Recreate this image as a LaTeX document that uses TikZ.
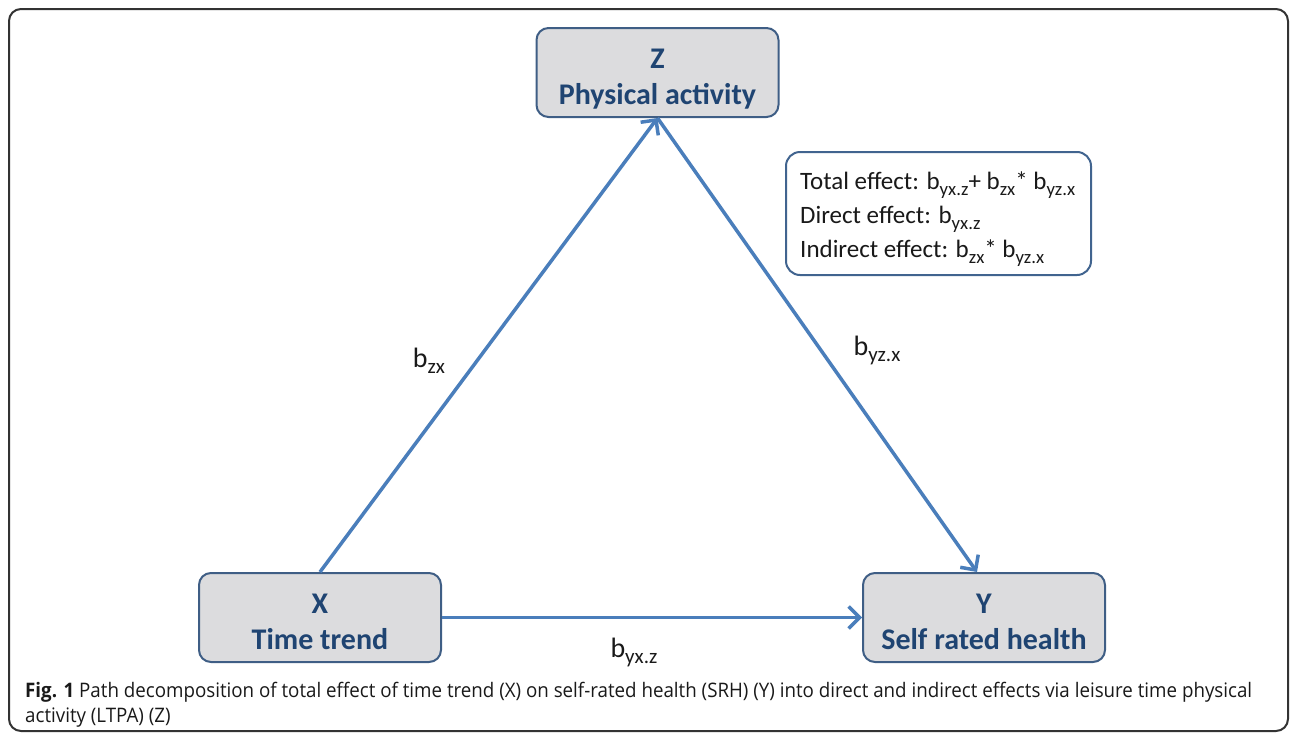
\documentclass[tikz,border=0pt]{standalone}
\usepackage{fontspec}
\usepackage{graphicx}
\setmainfont{Carlito}
\newfontfamily\capfont{Open Sans}
\usetikzlibrary{arrows.meta}
\definecolor{boxfill}{HTML}{DCDCDE}
\definecolor{boxline}{HTML}{3F5E85}
\definecolor{boxtext}{HTML}{1F4472}
\definecolor{arrowblue}{HTML}{4A7EBB}
\definecolor{infoline}{HTML}{41648F}
\definecolor{outerline}{HTML}{333333}
\newcommand{\bsb}[1]{b\raisebox{-0.45ex}{\scalebox{0.75}{#1}}}
\newcommand{\topfix}{\rule{0pt}{27.5pt}}
\newsavebox{\capboxa}
\newlength{\capwd}
\tikzset{
  varbox/.style={draw=boxline, line width=2pt, fill=boxfill, rounded corners=12pt,
    minimum width=242pt, minimum height=89pt, align=center, text=boxtext, text depth=0pt,
    font=\bfseries\fontsize{30}{36}\selectfont},
  infobox/.style={draw=infoline, line width=2pt, fill=white, rounded corners=14pt,
    minimum width=305pt, minimum height=123pt},
  infotxt/.style={anchor=west, align=left, inner sep=0pt, text=black!90,
    font=\fontsize{25}{34}\selectfont},
  pathlabel/.style={text=black!90, font=\fontsize{28}{32}\selectfont},
  patharrow/.style={draw=arrowblue, line width=3.5pt,
    -{Straight Barb[length=11pt, width=22pt, line width=3.5pt]}},
  captext/.style={anchor=west, inner sep=0pt, text=black!90, font=\capfont\fontsize{20}{24}\selectfont}
}
\begin{document}
\begin{tikzpicture}[x=1pt,y=-1pt]
\useasboundingbox (0,0) rectangle (1296,739);
\draw[outerline, line width=2pt, rounded corners=12pt] (9,9) rectangle (1288,731);

\node[varbox] (Z) at (657.5,72.5) {\topfix Z\\Physical activity};
\node[varbox] (X) at (320,617.5) {\topfix X\\Time trend};
\node[varbox] (Y) at (984,617.5) {\topfix Y\\Self rated health};

\draw[patharrow] (X.north) -- (Z.south);
\draw[patharrow] (Z.south) -- ([xshift=-7pt]Y.north);
\draw[patharrow] (X.east) -- (Y.west);

\node[pathlabel] (lzx) at (429,361) {\bsb{zx}};
\node[pathlabel] (lyz) at (877,350) {\bsb{yz.x}};
\node[pathlabel] (lyx) at (634,652) {\bsb{yx.z}};

\node[infobox] (info) at (938.5,213.5) {};
\node[infotxt] (infotext) at (800,219) {\mbox{Total effect: \bsb{yx.z}+ \bsb{zx}* \bsb{yz.x}}\\\mbox{Direct effect: \bsb{yx.z}}\\\mbox{Indirect effect: \bsb{zx}* \bsb{yz.x}}};

\node[captext] (cap1) at (25,692) {\sbox{\capboxa}{{\bfseries Fig. 1} Path decomposition of total effect of time trend (X) on self-rated health (SRH) (Y) into direct and indirect effects via leisure time physical}\setlength{\capwd}{\wd\capboxa}\pgfmathsetmacro{\capscale}{1227/\capwd}\xdef\gcapscale{\capscale}\scalebox{\capscale}[1]{\usebox{\capboxa}}};
\node[captext] (cap2) at (25,718) {\scalebox{\gcapscale}[1]{activity (LTPA) (Z)}};
\end{tikzpicture}
\end{document}
